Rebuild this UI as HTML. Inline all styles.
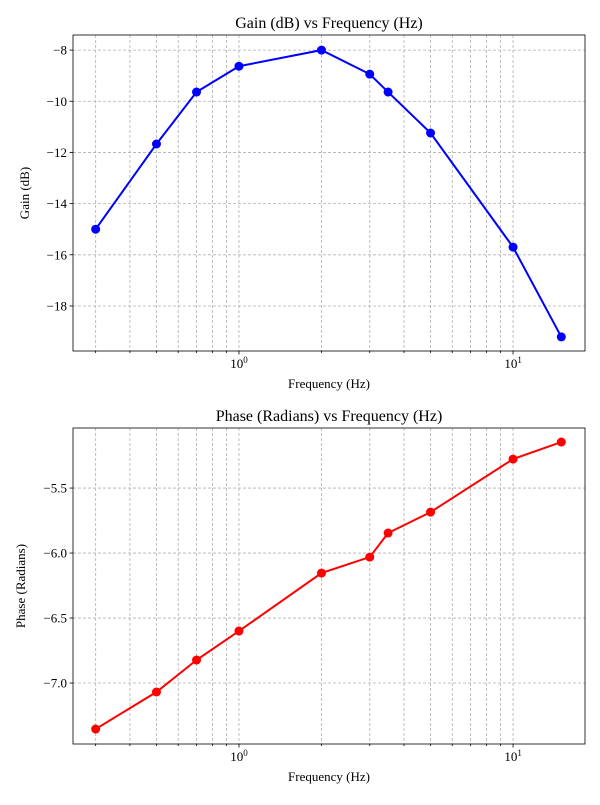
<!DOCTYPE html>
<html><head><meta charset="utf-8"><style>
body{margin:0;background:#fff;}
svg text{font-family:"Liberation Serif",serif;fill:#000;}
</style></head><body>
<svg id="chart" width="600" height="800" xmlns="http://www.w3.org/2000/svg"></svg>
<script>
const freqs=[0.3,0.5,0.7,1,2,3,3.5,5,10,15];
const gainValues=[-15.0,-11.67,-9.64,-8.63,-8.0,-8.94,-9.64,-11.24,-15.7,-19.21];
const phaseValues=[-7.354,-7.069,-6.823,-6.6,-6.154,-6.031,-5.846,-5.685,-5.277,-5.146];
const gainTicks=[-8,-10,-12,-14,-16,-18];
const phaseTicks=[-5.5,-6.0,-6.5,-7.0];
const gainTickLabels=["−8","−10","−12","−14","−16","−18"];
const phaseTickLabels=["−5.5","−6.0","−6.5","−7.0"];

const svg=document.getElementById('chart');
const NS="http://www.w3.org/2000/svg";
function mk(tag,attrs,parent){const e=document.createElementNS(NS,tag);for(const k in attrs)e.setAttribute(k,attrs[k]);(parent||svg).appendChild(e);return e;}
const L=73,R=585,xmin=Math.log10(0.248),xmax=Math.log10(18.3);
function xs(v){return L+(Math.log10(v)-xmin)/(xmax-xmin)*(R-L);}

function panel(name,top,bot,ymin,ymax,vals,ticks,tlabels,color,title,ylabel){
  const g=mk('g',{});
  
  
  const ys=v=>bot-(v-ymin)/(ymax-ymin)*(bot-top);
  // minor/major x grid
  for(let d=-1;d<=1;d++)for(let m=1;m<10;m++){
    const v=m*Math.pow(10,d);if(v<0.248||v>18.3)continue;
    const x=xs(v);
    const gl=mk('line',{x1:x,x2:x,y1:top,y2:bot,stroke:'#b0b0b0','stroke-width':0.8,'stroke-dasharray':'3,2'},g);
    
    mk('line',{x1:x,x2:x,y1:bot,y2:bot+(m==1?3.5:2),stroke:'#000','stroke-width':0.8},g);
    if(m==1){const t=mk('text',{x:x+(d==0?0:0),y:bot+17,'text-anchor':'middle','font-size':13},g);t.textContent='10';
      const s=mk('tspan',{dy:-5,'font-size':9},t);s.textContent=String(d);
      }
  }
  ticks.forEach((v,i)=>{const y=ys(v);
    const gl=mk('line',{x1:L,x2:R,y1:y,y2:y,stroke:'#b0b0b0','stroke-width':0.8,'stroke-dasharray':'3,2'},g);
    
    mk('line',{x1:L-3.5,x2:L,y1:y,y2:y,stroke:'#000','stroke-width':0.8},g);
    const t=mk('text',{x:L-6,y:y+4.5,'text-anchor':'end','font-size':13},g);t.textContent=tlabels[i];
    });
  mk('rect',{x:L,y:top,width:R-L,height:bot-top,fill:'none',stroke:'#000','stroke-width':0.8},g);
  const pts=freqs.map((f,i)=>xs(f)+','+ys(vals[i])).join(' ');
  const pl=mk('polyline',{points:pts,fill:'none',stroke:color,'stroke-width':2},g);
  
  freqs.forEach((f,i)=>{const c=mk('circle',{cx:xs(f),cy:ys(vals[i]),r:4.5,fill:color},g);
    });
  const tt=mk('text',{x:(L+R)/2,y:top-7,'text-anchor':'middle','font-size':16},g);tt.textContent=title;
  
  const xl=mk('text',{x:(L+R)/2,y:bot+37,'text-anchor':'middle','font-size':13},g);xl.textContent='Frequency (Hz)';
  
  const cy=(top+bot)/2,cx=name==='gain-panel'?29:25;
  const yl=mk('text',{x:cx,y:cy,'text-anchor':'middle','font-size':13,transform:`rotate(-90 ${cx} ${cy})`},g);yl.textContent=ylabel;
  
}
panel('gain-panel',35,351,-19.76,-7.41,gainValues,gainTicks,gainTickLabels,'#0000ff','Gain (dB) vs Frequency (Hz)','Gain (dB)');
panel('phase-panel',428,744,-7.469,-5.038,phaseValues,phaseTicks,phaseTickLabels,'#ff0000','Phase (Radians) vs Frequency (Hz)','Phase (Radians)');
</script>
</body></html>
